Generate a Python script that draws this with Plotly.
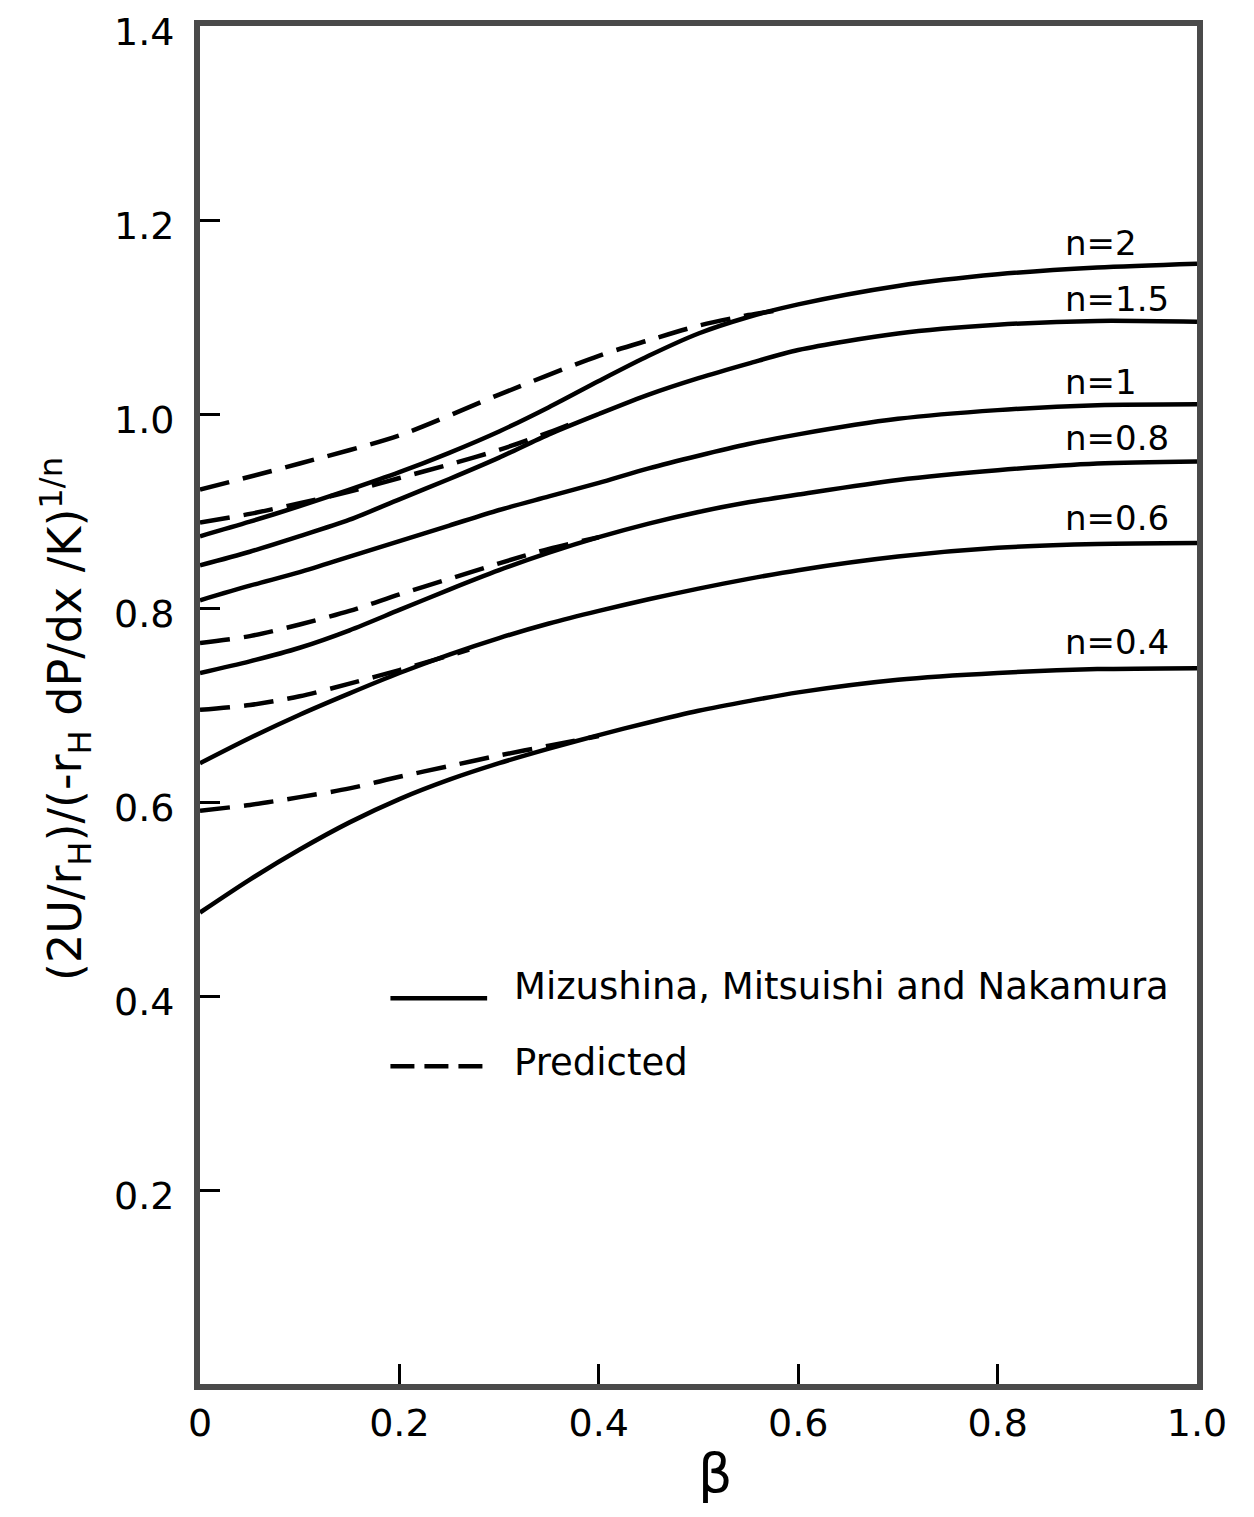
import plotly.graph_objects as go

# ---- data ----
beta = [0, 0.05, 0.1, 0.15, 0.2, 0.25, 0.3, 0.35, 0.4, 0.45, 0.5, 0.55, 0.6, 0.7, 0.8, 0.9, 1.0]

mmn_n2 = [0.874, 0.889, 0.905, 0.922, 0.940, 0.960, 0.982, 1.007, 1.034, 1.060, 1.083, 1.100, 1.113, 1.132, 1.144, 1.151, 1.155]
mmn_n15 = [0.844, 0.858, 0.874, 0.891, 0.912, 0.933, 0.955, 0.979, 1.000, 1.020, 1.037, 1.052, 1.066, 1.083, 1.092, 1.096, 1.095]
mmn_n1 = [0.808, 0.823, 0.837, 0.853, 0.869, 0.885, 0.901, 0.915, 0.929, 0.944, 0.957, 0.969, 0.979, 0.995, 1.004, 1.009, 1.010]
mmn_n08 = [0.733, 0.745, 0.759, 0.777, 0.798, 0.819, 0.839, 0.857, 0.873, 0.887, 0.899, 0.909, 0.917, 0.932, 0.942, 0.949, 0.951]
mmn_n06 = [0.640, 0.666, 0.690, 0.712, 0.733, 0.752, 0.769, 0.784, 0.797, 0.809, 0.820, 0.830, 0.839, 0.853, 0.862, 0.866, 0.867]
mmn_n04 = [0.486, 0.520, 0.551, 0.579, 0.603, 0.623, 0.640, 0.655, 0.669, 0.682, 0.694, 0.704, 0.713, 0.726, 0.733, 0.737, 0.738]

pred_n2_beta = [0, 0.1, 0.2, 0.3, 0.4, 0.45, 0.5, 0.55, 0.58]
pred_n2 = [0.922, 0.949, 0.978, 1.020, 1.060, 1.076, 1.091, 1.102, 1.107]
pred_n15_beta = [0, 0.05, 0.1, 0.15, 0.2, 0.25, 0.3, 0.35, 0.37]
pred_n15 = [0.888, 0.897, 0.908, 0.920, 0.934, 0.948, 0.963, 0.981, 0.989]
pred_n08_beta = [0, 0.05, 0.1, 0.15, 0.2, 0.25, 0.3, 0.35, 0.4]
pred_n08 = [0.764, 0.771, 0.783, 0.797, 0.814, 0.830, 0.846, 0.861, 0.873]
pred_n06_beta = [0, 0.05, 0.1, 0.15, 0.2, 0.25, 0.27]
pred_n06 = [0.695, 0.700, 0.709, 0.722, 0.736, 0.751, 0.757]
pred_n04_beta = [0, 0.05, 0.1, 0.15, 0.2, 0.25, 0.3, 0.35, 0.4]
pred_n04 = [0.591, 0.597, 0.605, 0.614, 0.626, 0.637, 0.648, 0.658, 0.668]

curve_labels = ["n=2", "n=1.5", "n=1", "n=0.8", "n=0.6", "n=0.4"]
label_y = [1.176, 1.119, 1.033, 0.975, 0.893, 0.765]
label_x = 0.866

x_tickvals = [0, 0.2, 0.4, 0.6, 0.8, 1.0]
x_ticktext = ["0", "0.2", "0.4", "0.6", "0.8", "1.0"]
y_tickvals = [0.2, 0.4, 0.6, 0.8, 1.0, 1.2, 1.4]
y_ticktext = ["0.2", "0.4", "0.6", "0.8", "1.0", "1.2", "1.4"]

x_title = "β"
y_title = "(2U/r<sub>H</sub>)/(-r<sub>H</sub> dP/dx /K)<sup>1/n</sup>"
legend_solid = "Mizushina, Mitsuishi and Nakamura"
legend_dash = "Predicted"

FONT = "DejaVu Sans"
fig = go.Figure()

solid_sets = [mmn_n2, mmn_n15, mmn_n1, mmn_n08, mmn_n06, mmn_n04]
for ys in solid_sets:
    fig.add_trace(go.Scatter(x=beta, y=ys, mode="lines",
                             line=dict(color="black", width=4.5, shape="spline", smoothing=0.8),
                             showlegend=False, hoverinfo="skip"))

pred_sets = [(pred_n2_beta, pred_n2), (pred_n15_beta, pred_n15), (pred_n08_beta, pred_n08),
             (pred_n06_beta, pred_n06), (pred_n04_beta, pred_n04)]
for xs, ys in pred_sets:
    fig.add_trace(go.Scatter(x=xs, y=ys, mode="lines",
                             line=dict(color="black", width=4.5, dash="30px,14px", shape="spline", smoothing=0.8),
                             showlegend=False, hoverinfo="skip"))

for txt, yv in zip(curve_labels, label_y):
    fig.add_annotation(x=label_x, y=yv, text=txt, showarrow=False, xanchor="left", yanchor="middle",
                       font=dict(family=FONT, size=34, color="black"))

# legend key (drawn manually to match the original)
fig.add_shape(type="line", xref="paper", yref="paper", x0=0.191, x1=0.288, y0=0.284, y1=0.284,
              line=dict(color="black", width=4.5))
fig.add_shape(type="line", xref="paper", yref="paper", x0=0.191, x1=0.288, y0=0.234, y1=0.234,
              line=dict(color="black", width=4.5, dash="24px,10px"))
fig.add_annotation(xref="paper", yref="paper", x=0.313, y=0.293, text=legend_solid, showarrow=False,
                   xanchor="left", yanchor="middle", font=dict(family=FONT, size=37, color="black"))
fig.add_annotation(xref="paper", yref="paper", x=0.313, y=0.237, text=legend_dash, showarrow=False,
                   xanchor="left", yanchor="middle", font=dict(family=FONT, size=37, color="black"))

# axis titles
fig.add_annotation(xref="paper", yref="paper", x=0.517, y=-0.066, text=x_title, showarrow=False,
                   xanchor="center", yanchor="middle", font=dict(family=FONT, size=54, color="black"))
fig.add_annotation(xref="paper", yref="paper", x=-0.135, y=0.49, text=y_title, showarrow=False,
                   textangle=-90, xanchor="center", yanchor="middle",
                   font=dict(family=FONT, size=46, color="black"))

axis_common = dict(showgrid=False, zeroline=False, showline=True, mirror=True, automargin=False,
                   linecolor="#4a4a4a", linewidth=6, ticks="inside", ticklen=20,
                   tickwidth=3, tickcolor="black", ticklabeloverflow="allow",
                   tickfont=dict(family=FONT, size=38, color="black"))

fig.update_layout(
    width=1254, height=1517,
    margin=dict(l=192, r=65, t=18, b=141),
    paper_bgcolor="white", plot_bgcolor="white",
    xaxis=dict(range=[0, 1.0], tickvals=x_tickvals, ticktext=x_ticktext, **axis_common),
    yaxis=dict(range=[0, 1.4], tickvals=y_tickvals, ticktext=y_ticktext, ticklabelstandoff=12,
               ticklabelshift=6, **axis_common),
)

fig.write_html("out.html")
